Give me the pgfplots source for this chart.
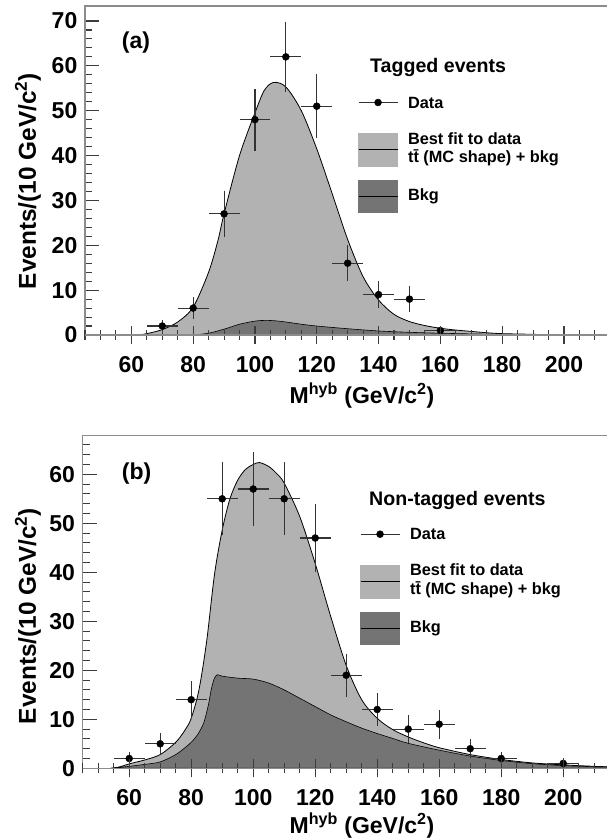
\documentclass[border=0pt]{standalone}
\usepackage{fontspec}
\setmainfont{Liberation Sans}
\usepackage{pgfplots}
\usepackage{pgfplotstable}
\pgfplotsset{compat=1.18}

\definecolor{lightfill}{RGB}{178,178,178}
\definecolor{darkfill}{RGB}{116,116,116}
\definecolor{framegray}{RGB}{140,140,140}
\definecolor{tickgray}{RGB}{60,60,60}

\newcommand\tickfont{\fontsize{23}{27}\selectfont\bfseries}
\newcommand\labfont{\fontsize{23}{27}\selectfont\bfseries}
\newcommand\ylabfont{\fontsize{24.4}{28}\selectfont\bfseries}
\newcommand\headfont{\fontsize{19.6}{23}\selectfont\bfseries}
\newcommand\entfont{\fontsize{16.3}{18.5}\selectfont\bfseries}

\pgfplotstableread{
x y ex ey
70 2 5 1.414
80 6 5 2.449
90 27 5 5.196
100 48 5 6.928
110 62 5 7.874
120 51 5 7.141
130 16 5 4
140 9 5 3
150 8 5 2.828
160 1 5 1
}\dataA

\pgfplotstableread{
x y
62 0
65 0.3
70 1.2
75 2.9
80 6.2
85 14
88 21
90 27
95 40
100 49.5
103 54.5
106 56.3
110 55.3
115 50
120 41.5
125 31.5
130 21.3
135 13
140 7.8
145 4.6
150 3.0
155 2.1
160 1.5
165 1.1
170 0.8
175 0.5
180 0.3
190 0.15
195 0.05
}\fitA

\pgfplotstableread{
x y
80 0
85 0.4
90 1.3
95 2.4
100 3.1
103 3.25
106 3.2
110 2.9
115 2.4
120 2.0
130 1.4
140 0.9
150 0.6
160 0.4
170 0.25
180 0.15
195 0.05
}\bkgA

\pgfplotstableread{
x y ex ey
60 2 5 1.414
70 5 5 2.236
80 14 5 3.742
90 55 5 7.416
100 57 5 7.550
110 55 5 7.416
120 47 5 6.856
130 19 5 4.359
140 12 5 3.464
150 8 5 2.828
160 9 5 3
170 4 5 2
180 2 5 1.414
200 1 5 1
}\dataB

\pgfplotstableread{
x y
54 0
57 0.3
60 0.9
65 1.7
70 2.8
75 5.3
78 7.8
80 10.2
82.5 16
85 26
87.5 39.5
90 48.6
92.5 55
95 58.8
97.5 61
100 62
102 62.4
105 61.6
107.5 60.2
110 58.2
115 51.4
120 41.8
125 31
130 21
135 14
140 10.2
145 7.9
150 6.4
155 5.2
160 4.2
170 2.8
180 1.8
190 1.1
200 0.7
210 0.4
215 0.3
}\fitB

\pgfplotstableread{
x y
54 0
57 0.2
60 0.4
65 0.8
70 1.3
75 2.8
78 4.2
80 5.3
82 6.8
84 9.2
85.5 12.8
86.5 16.2
87.5 18.4
88.5 19.1
90 18.8
95 18.4
100 18.2
105 17.4
110 16
115 14.3
120 12.6
125 10.9
130 9.5
135 8.2
140 7.1
145 6.1
150 5.1
160 3.7
170 2.5
180 1.6
190 0.95
200 0.55
210 0.32
215 0.27
}\bkgB

\pgfplotsset{
  mainax/.style={
    scale only axis, axis on top, xmin=45, ymin=0,
    axis line style={framegray, line width=1.4pt},
    xtick=\empty,
    ytick={0,10,...,70}, minor y tick num=4,
    ytick pos=left, tick align=inside,
    major tick length=14pt, minor tick length=7pt,
    tick style={tickgray, line width=1.1pt},
    yticklabel style={font=\tickfont, inner sep=0pt, xshift=-7.5pt},
    /pgf/number format/assume math mode=true,
    legend cell align=left,
    legend style={draw=none, fill=none, inner sep=0pt, outer sep=0pt,
      row sep=0pt, column sep=10pt, anchor=north west,
      nodes={inner sep=0pt, text depth={}}, font=\entfont},
  },
  xtickax/.style={
    scale only axis, xmin=45, ymin=0,
    hide y axis, axis x line*=bottom,
    x axis line style={framegray, line width=1.4pt, -},
    xtick={40,60,...,220}, minor x tick num=3,
    tick align=center, major tick length=18pt, minor tick length=10pt,
    tick style={tickgray, line width=1.1pt},
    xticklabel style={font=\tickfont, inner sep=0pt, yshift=-12pt},
    /pgf/number format/assume math mode=true,
  },
  dataimg/.style={legend image code/.code={
    \path (0pt,-26.45pt) (0pt,26.45pt);
    \draw[black!80, line width=1.1pt] (0pt,0pt) -- (39pt,0pt);
    \fill[black] (19.5pt,0pt) circle (3.5pt);}},
  fitimg/.style={legend image code/.code={
    \path (0pt,-20.55pt) (0pt,20.55pt);
    \fill[lightfill] (0pt,-16.2pt) rectangle (39pt,16.2pt);
    \draw[black, line width=0.9pt] (0pt,0pt) -- (39pt,0pt);}},
  bkgimg/.style={legend image code/.code={
    \path (0pt,-25.65pt) (0pt,25.65pt);
    \fill[darkfill] (0pt,-16.2pt) rectangle (39pt,16.2pt);
    \draw[black, line width=0.9pt] (0pt,0pt) -- (39pt,0pt);}},
}

\begin{document}
\begin{tikzpicture}[x=1pt,y=1pt]
\useasboundingbox (0,0) rectangle (607,839);

% ---------------- panel (a) ----------------
\begin{axis}[mainax, at={(85pt,504pt)}, anchor=south west,
  width=524.5pt, height=329pt, xmax=214.74, ymax=73.34,
  legend style={at={(axis description cs:0.5205,0.7877)}}]
\addplot[forget plot, fill=lightfill, draw=black, line width=0.8pt, smooth] table {\fitA} \closedcycle;
\addplot[forget plot, fill=darkfill, draw=black, line width=0.6pt, smooth] table {\bkgA} \closedcycle;
\addplot[forget plot, only marks, mark=*, mark size=3.5pt, black,
  error bars/.cd, x dir=both, x explicit, y dir=both, y explicit, error mark=none,
  error bar style={line width=1.1pt, black!80}]
  table[x=x, y=y, x error=ex, y error=ey] {\dataA};
\addlegendimage{dataimg}
\addlegendentry{Data}
\addlegendimage{fitimg}
\addlegendentry{\begin{tabular}{@{}l@{}}Best fit to data\\t\={t} (MC shape) + bkg\end{tabular}}
\addlegendimage{bkgimg}
\addlegendentry{Bkg}
\end{axis}
\begin{axis}[xtickax, at={(85pt,504pt)}, anchor=south west,
  width=524.5pt, height=329pt, xmax=214.74, ymax=73.34]
\end{axis}

% ---------------- panel (b) ----------------
\begin{axis}[mainax, at={(82.7pt,70.7pt)}, anchor=south west,
  width=527pt, height=332.6pt, xmax=215.0, ymax=67.88,
  legend style={at={(axis description cs:0.5262,0.784)}}]
\addplot[forget plot, fill=lightfill, draw=black, line width=0.8pt, smooth] table {\fitB} \closedcycle;
\addplot[forget plot, fill=darkfill, draw=black, line width=0.6pt, smooth] table {\bkgB} \closedcycle;
\addplot[forget plot, only marks, mark=*, mark size=3.5pt, black,
  error bars/.cd, x dir=both, x explicit, y dir=both, y explicit, error mark=none,
  error bar style={line width=1.1pt, black!80}]
  table[x=x, y=y, x error=ex, y error=ey] {\dataB};
\addlegendimage{dataimg}
\addlegendentry{Data}
\addlegendimage{fitimg}
\addlegendentry{\begin{tabular}{@{}l@{}}Best fit to data\\t\={t} (MC shape) + bkg\end{tabular}}
\addlegendimage{bkgimg}
\addlegendentry{Bkg}
\end{axis}
\begin{axis}[xtickax, at={(82.7pt,70.7pt)}, anchor=south west,
  width=527pt, height=332.6pt, xmax=215.0, ymax=67.88]
\end{axis}

% ---------------- texts ----------------
\node[anchor=west, font=\labfont, inner sep=0pt] at (121.7,796.3) {(a)};
\node[anchor=west, font=\labfont, inner sep=0pt] at (121.7,365.7) {(b)};
\node[anchor=west, font=\headfont, inner sep=0pt] at (370,772) {Tagged events};
\node[anchor=west, font=\headfont, inner sep=0pt] at (369,339) {Non-tagged events};
\node[rotate=90, font=\ylabfont, inner sep=0pt] at (28,658) {Events/(10 GeV/c\textsuperscript{2})};
\node[rotate=90, font=\ylabfont, inner sep=0pt] at (28,223) {Events/(10 GeV/c\textsuperscript{2})};
\node[font=\labfont, inner sep=0pt] at (362,443) {M\textsuperscript{hyb} (GeV/c\textsuperscript{2})};
\node[font=\labfont, inner sep=0pt] at (362,13) {M\textsuperscript{hyb} (GeV/c\textsuperscript{2})};
\end{tikzpicture}
\end{document}
